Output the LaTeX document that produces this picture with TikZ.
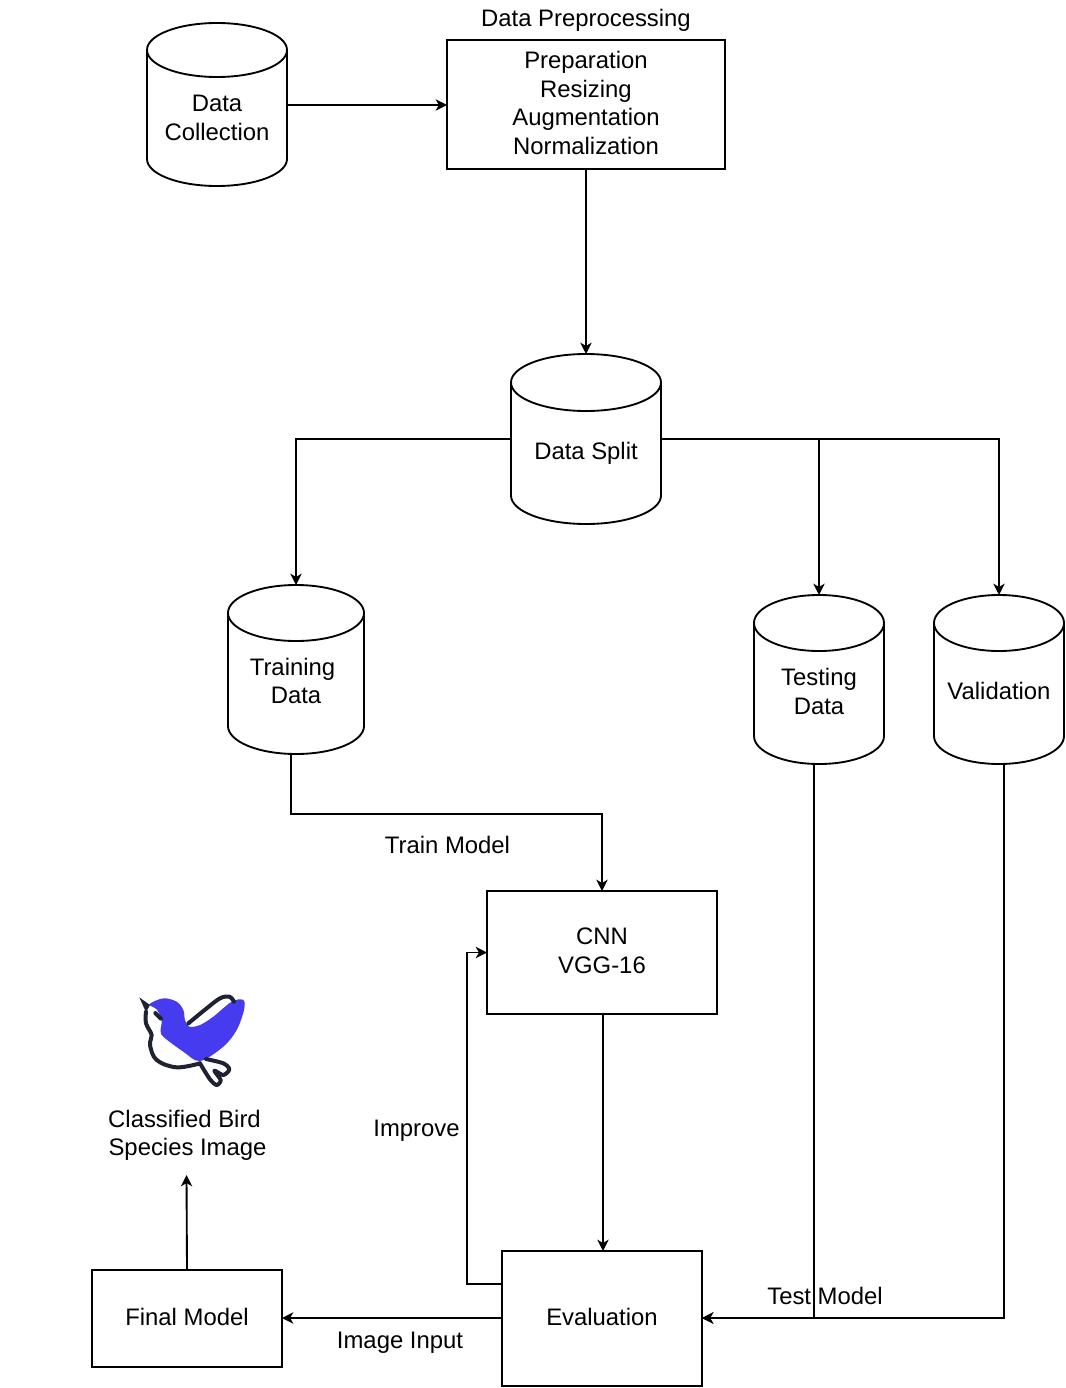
\documentclass[tikz,border=0pt]{standalone}
\usepackage{fontspec}
\setmainfont{Liberation Sans}
\usetikzlibrary{arrows.meta}
\definecolor{birdblue}{HTML}{473BF0}
\definecolor{birdink}{HTML}{1F2233}
\tikzset{
 conn/.style={draw=black,line width=1.4pt,-{Stealth[length=8.5pt,width=8.5pt,inset=2.5pt]}},
 shapeline/.style={draw=black,line width=1.4pt,fill=white},
 plainbox/.style={shapeline,inner sep=0pt},
 hitbox/.style={inner sep=0pt,outer sep=0pt},
 lbl/.style={align=center,inner sep=0pt,font=\fontsize{17.9pt}{21.4pt}\selectfont},
 birdline/.style={draw=birdink,line width=3pt,line cap=round,line join=round}
}
\newcommand{\cylshape}[6]{% name, left, top, right, bottom, ry
 \draw[shapeline] (#2,#3+#6) -- (#2,#5-#6)
   .. controls (#2,#5-#6*0.45) and ({#2+(#4-#2)*0.22},#5) .. ({(#2+#4)/2},#5)
   .. controls ({#4-(#4-#2)*0.22},#5) and (#4,#5-#6*0.45) .. (#4,#5-#6) -- (#4,#3+#6)
   .. controls (#4,#3+#6*0.45) and ({#4-(#4-#2)*0.22},#3) .. ({(#2+#4)/2},#3)
   .. controls ({#2+(#4-#2)*0.22},#3) and (#2,#3+#6*0.45) .. (#2,#3+#6)
   .. controls (#2,#3+#6*1.55) and ({#2+(#4-#2)*0.22},#3+2*#6) .. ({(#2+#4)/2},#3+2*#6)
   .. controls ({#4-(#4-#2)*0.22},#3+2*#6) and (#4,#3+#6*1.55) .. (#4,#3+#6);
 \node[hitbox,minimum width={(#4-#2)*0.75pt},minimum height={(#5-#3)*0.75pt}] (#1) at ({(#2+#4)/2},{(#3+#5)/2}) {};
}
\newcommand{\boxnode}[7]{% name,left,top,right,bottom,text,text y
 \node[plainbox,outer sep=0pt,minimum width={(#4-#2)*0.75pt},minimum height={(#5-#3)*0.75pt}] (#1) at ({(#2+#4)/2},{(#3+#5)/2}) {};
 \node[lbl] (#1text) at ({(#2+#4)/2},#7) {#6};
}
\begin{document}
\begin{tikzpicture}[x=0.75pt,y=-0.75pt]
\useasboundingbox (0,0) rectangle (1066,1388);
% cylinders
\cylshape{collect}{147}{23}{287}{186}{27}
\cylshape{split}{511}{354}{661}{524}{28.5}
\cylshape{train}{228}{585}{364}{754}{28}
\cylshape{test}{754}{595}{884}{764}{28}
\cylshape{valid}{934}{595}{1064}{764}{28}
\node[lbl] (tcollect) at (217,118) {Data\\Collection};
\node[lbl] (tsplit) at (586,453) {Data Split};
\node[lbl] (ttrain1) at (292.5,669) {Training};
\node[lbl] (ttrain2) at (296,695.5) {Data};
\node[lbl] (ttest) at (819,691.5) {Testing\\Data};
\node[lbl] (tvalid) at (999,691) {Validation};
% boxes
\boxnode{prep}{447}{40}{725}{169}{Preparation\\Resizing\\Augmentation\\Normalization}{103}
\boxnode{cnn}{487}{891}{717}{1014}{CNN\\VGG-16}{951}
\boxnode{eval}{502}{1251}{702}{1386}{Evaluation}{1316.5}
\boxnode{final}{92}{1270}{282}{1367}{Final Model}{1316.5}
% labels
\node[lbl] (lprep) at (586,20) {Data Preprocessing};
\node[lbl] (ltrain) at (447.5,845) {Train Model};
\node[lbl] (limprove) at (416.5,1131) {Improve};
\node[lbl] (ltest) at (825,1296) {Test Model};
\node[lbl] (linput) at (400,1343) {Image Input};
\node[lbl] (lbird1) at (184.5,1119) {Classified Bird};
\node[lbl] (lbird2) at (187.5,1149) {Species Image};
\coordinate (birdend) at (186.5,1175);
% connectors
\draw[conn] (collect.east |- 0,105) -- (prep.west |- 0,105);
\draw[conn] (prep.south) -- (split.north);
\draw[conn] (split.west |- 0,439) -| (train.north);
\draw[conn] (split.east |- 0,439) -| (test.north);
\draw[conn] (split.east |- 0,439) -| (valid.north);
\draw[conn] (291,754) |- (602,814) -- (cnn.north -| 602,0);
\draw[conn] (603,1014) -- (603,1251);
\draw[conn] (eval.west |- 0,1284) -- (467,1284) |- (cnn.west);
\draw[conn] (814,764) |- (eval.east |- 0,1318);
\draw[conn] (1004,764) |- (eval.east |- 0,1318);
\draw[conn] (eval.west |- 0,1318) -- (final.east |- 0,1318);
\draw[conn] (final.north) -- (birdend);
% bird
\begin{scope}[shift={(120,980)},x=0.25pt,y=-0.25pt]
 \fill[birdblue] plot[smooth cycle,tension=0.55] coordinates {(88,73) (130,55) (170,65) (190,90) (195,120) (208,140) (240,135) (280,110) (335,65) (370,60) (372,90) (350,150) (310,200) (240,243) (190,215) (130,170) (122,150) (125,120) (110,88)};
 \fill[birdink] (58,52) -- (90,75) -- (78,97) -- cycle;
 \draw[birdline] plot[smooth,tension=0.6] coordinates {(78,95) (78,130) (95,165) (90,195) (110,240) (170,262) (240,250)};
 \draw[birdline] plot[smooth,tension=0.6] coordinates {(205,130) (260,85) (300,55) (328,50) (342,65)};
 \draw[birdline] plot[smooth,tension=0.5] coordinates {(240,250) (270,298) (290,315) (302,300) (283,272) (310,285) (328,268) (310,250) (258,237)};
 \draw[birdline] (106,99) -- (123,116);
\end{scope}
\end{tikzpicture}
\end{document}
